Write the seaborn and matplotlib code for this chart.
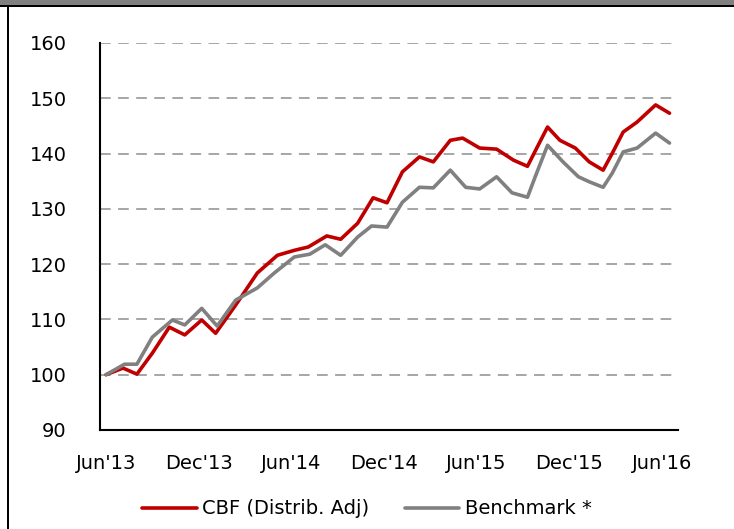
import numpy as np
import pandas as pd
import seaborn as sns
import matplotlib.pyplot as plt
from matplotlib.patches import Rectangle

# months since Jun'13
cbf_x = [0, 1.1, 2.0, 3.0, 4.1, 5.1, 6.2, 7.1, 8.4, 9.8, 11.1, 12.2, 13.1, 14.3, 15.2,
         16.3, 17.3, 18.2, 19.2, 20.3, 21.2, 22.3, 23.1, 24.2, 25.3, 26.4, 27.3, 27.9,
         28.6, 29.4, 30.4, 31.3, 32.2, 32.8, 33.5, 34.4, 35.6, 36.5]
cbf_y = [100, 101.2, 100.1, 103.9, 108.6, 107.2, 109.9, 107.5, 112.6, 118.4, 121.6, 122.5,
         123.1, 125.1, 124.5, 127.4, 132.0, 131.1, 136.7, 139.4, 138.5, 142.4, 142.8, 141.0,
         140.8, 138.8, 137.7, 141.0, 144.8, 142.4, 141.0, 138.5, 137.0, 140.1, 143.9, 145.7,
         148.8, 147.3]

bench_x = [0, 1.2, 2.0, 3.0, 4.3, 5.1, 6.2, 7.2, 8.4, 9.8, 10.9, 12.2, 13.2, 14.2, 15.2,
           16.3, 17.2, 18.2, 19.2, 20.3, 21.2, 22.3, 23.3, 24.2, 25.3, 26.3, 27.3, 27.8,
           28.6, 29.6, 30.6, 31.3, 32.2, 32.8, 33.5, 34.4, 35.6, 36.5]
bench_y = [100, 101.9, 101.9, 106.8, 109.9, 109.0, 112.0, 108.8, 113.5, 115.7, 118.4, 121.3,
           121.8, 123.5, 121.6, 124.9, 126.9, 126.7, 131.2, 133.9, 133.8, 137.0, 133.9, 133.6,
           135.8, 132.9, 132.1, 135.8, 141.5, 138.5, 135.8, 134.9, 133.9, 136.5, 140.3, 141.0,
           143.7, 141.9]

tick_pos = [0, 6, 12, 18, 24, 30, 36]
tick_labels = ["Jun'13", "Dec'13", "Jun'14", "Dec'14", "Jun'15", "Dec'15", "Jun'16"]
y_ticks = [90, 100, 110, 120, 130, 140, 150, 160]

names = ["CBF (Distrib. Adj)", "Benchmark *"]
df = pd.concat([
    pd.DataFrame({"month": cbf_x, "value": cbf_y, "series": names[0]}),
    pd.DataFrame({"month": bench_x, "value": bench_y, "series": names[1]}),
])

sns.set_style("white")
plt.rcParams['font.family'] = ['DejaVu Sans']
plt.rcParams['text.color'] = 'black'
plt.rcParams['xtick.color'] = 'black'
plt.rcParams['ytick.color'] = 'black'

fig = plt.figure(figsize=(7.34, 5.29), dpi=100)
ax = fig.add_axes([100 / 734, 1 - 430 / 529, 578 / 734, 387 / 529])

sns.lineplot(data=df, x="month", y="value", hue="series", sort=False,
             palette={names[0]: "#C00000", names[1]: "#808080"},
             linewidth=2.6, ax=ax, legend=False)
for ln in ax.lines:
    ln.set_solid_joinstyle("round")
    ln.set_solid_capstyle("round")

ax.set_xlim(-0.39, 37.05)
ax.set_ylim(90, 160)
ax.set_yticks(y_ticks)
ax.set_xticks(tick_pos)
ax.set_xticklabels(tick_labels)
ax.set_xlabel("")
ax.set_ylabel("")
ax.tick_params(axis="x", direction="in", length=5, width=1.5, color="black",
               labelsize=14, pad=17)
ax.tick_params(axis="y", length=0, labelsize=14, pad=24)

for v in y_ticks[1:]:
    ax.axhline(v, color="#a6a6a6", lw=1.4, ls=(0, (5.5, 3.8)), zorder=0)
ax.grid(False)

for s in ["top", "right"]:
    ax.spines[s].set_visible(False)
for s in ["left", "bottom"]:
    ax.spines[s].set_color("black")
    ax.spines[s].set_linewidth(1.5)

handles = [plt.Line2D([], [], color="#C00000", lw=2.6),
           plt.Line2D([], [], color="#808080", lw=2.6)]
fig.legend(handles, names, loc="center", bbox_to_anchor=(0.5, 1 - 509 / 529),
           ncol=2, frameon=False, fontsize=14, handlelength=2.8,
           handletextpad=0.3, columnspacing=1.8)

# frame pieces of the original panel
fig.patches.append(Rectangle((0, 1 - 5 / 529), 1, 5 / 529, transform=fig.transFigure,
                             facecolor="#808080", edgecolor="none"))
fig.patches.append(Rectangle((0, 1 - 7 / 529), 1, 2 / 529, transform=fig.transFigure,
                             facecolor="black", edgecolor="none"))
fig.patches.append(Rectangle((7 / 734, 0), 2 / 734, 1 - 7 / 529, transform=fig.transFigure,
                             facecolor="black", edgecolor="none"))

fig.savefig("out.png", dpi=100)
